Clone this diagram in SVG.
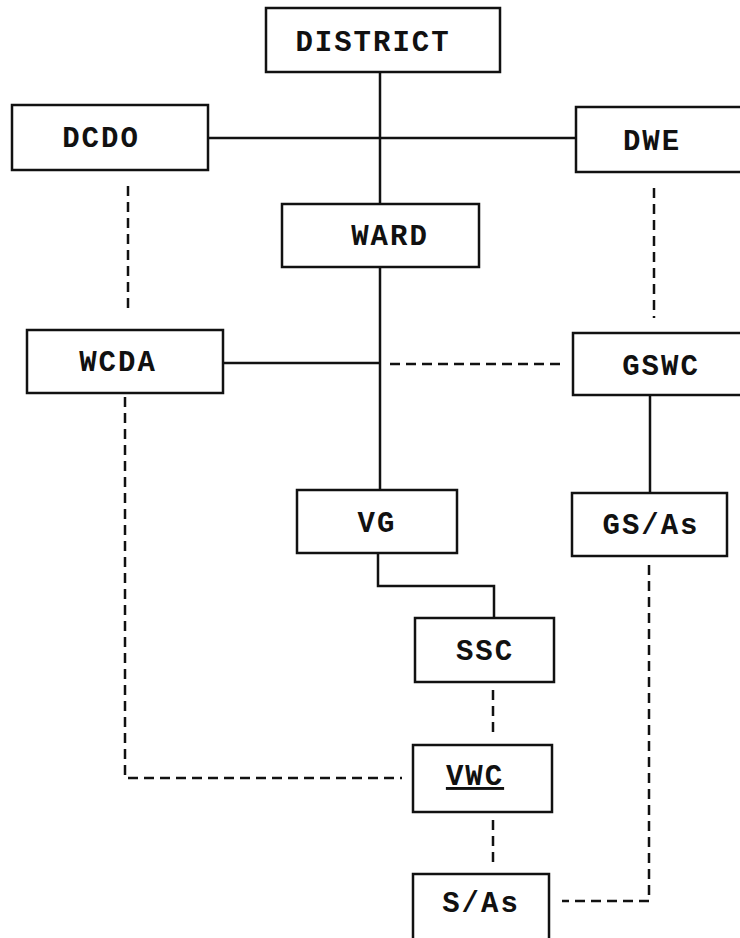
<svg xmlns="http://www.w3.org/2000/svg" width="740" height="938" viewBox="0 0 740 938">
<style>
.box{fill:#fff;stroke:#111;stroke-width:2.5}
.lbl{font-family:"Liberation Mono","Courier New",monospace;font-weight:bold;font-size:29px;fill:#111;text-anchor:middle;letter-spacing:2px}
.solid{fill:none;stroke:#111;stroke-width:2.5}
.dash{fill:none;stroke:#111;stroke-width:2.5;stroke-dasharray:10 6}
</style>
<rect width="740" height="938" fill="#fff"/>
<g id="connectors">
<path class="solid" d="M380,72 V204"/>
<path class="solid" d="M208,138 H576"/>
<path class="solid" d="M380,267 V490"/>
<path class="solid" d="M223,363 H380"/>
<path class="dash" d="M390,364 H562"/>
<path class="dash" d="M128,186 V314"/>
<path class="dash" d="M654,188 V318"/>
<path class="solid" d="M650,395 V493"/>
<path class="solid" d="M378,553 V586 H494 V618"/>
<path class="dash" d="M493,690 V734"/>
<path class="dash" d="M125,397 V778 H402"/>
<path class="dash" d="M493,820 V864"/>
<path class="dash" d="M649,565 V901 H562"/>
</g>
<g id="district"><rect class="box" x="266" y="8" width="234" height="64"/><text class="lbl" x="373" y="51">DISTRICT</text></g>
<g id="dcdo"><rect class="box" x="12" y="105" width="196" height="65"/><text class="lbl" x="101" y="147">DCDO</text></g>
<g id="dwe"><rect class="box" x="576" y="107" width="170" height="65"/><text class="lbl" x="652" y="150">DWE</text></g>
<g id="ward"><rect class="box" x="282" y="204" width="197" height="63"/><text class="lbl" x="390" y="245">WARD</text></g>
<g id="wcda"><rect class="box" x="27" y="330" width="196" height="63"/><text class="lbl" x="118" y="371">WCDA</text></g>
<g id="gswc"><rect class="box" x="573" y="333" width="173" height="62"/><text class="lbl" x="661" y="375">GSWC</text></g>
<g id="vg"><rect class="box" x="297" y="490" width="160" height="63"/><text class="lbl" x="377" y="532">VG</text></g>
<g id="gsas"><rect class="box" x="572" y="493" width="155" height="63"/><text class="lbl" x="651" y="534">GS/As</text></g>
<g id="ssc"><rect class="box" x="415" y="618" width="139" height="64"/><text class="lbl" x="485" y="660">SSC</text></g>
<g id="vwc"><rect class="box" x="413" y="745" width="139" height="67"/><text class="lbl" x="475" y="785" text-decoration="underline">VWC</text></g>
<g id="sas"><rect class="box" x="413" y="874" width="136" height="70"/><text class="lbl" x="481" y="912">S/As</text></g>
</svg>
